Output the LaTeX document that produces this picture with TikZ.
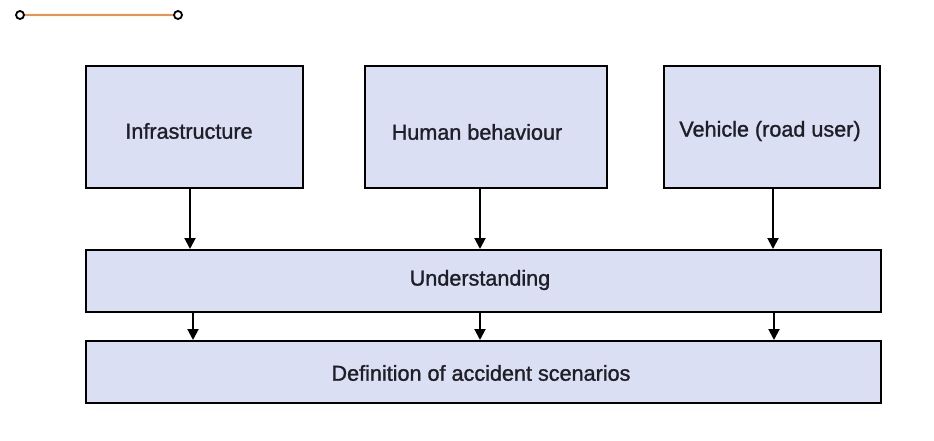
\documentclass[tikz,border=0pt]{standalone}
\usepackage{fontspec}
\setmainfont{Liberation Sans}
\newfontfamily\labelfont{Liberation Sans}[FakeBold=1.2]
\usetikzlibrary{arrows.meta}
\definecolor{boxfill}{RGB}{219,223,243}
\definecolor{textgrey}{RGB}{30,30,38}
\definecolor{legendline}{RGB}{240,145,70}
\begin{document}
\begin{tikzpicture}[x=1pt,y=-1pt,
  blockbox/.style={draw=black,line width=2pt,fill=boxfill,inner sep=0pt},
  blocklabel/.style={text=textgrey,font=\labelfont\fontsize{21.6}{25}\selectfont,inner sep=0pt,anchor=center},
  flow/.style={line width=2pt,-{Triangle[width=11pt,length=11pt]}},
  endpoint/.style={circle,draw=black,line width=1.8pt,fill=white,minimum size=8pt,inner sep=0pt}]
\useasboundingbox (0,0) rectangle (934,441);

% short orange bar in the upper-left corner
\node[endpoint] (e1) at (20,15) {};
\node[endpoint] (e2) at (178,15) {};
\draw[legendline,line width=2.6pt] (e1) -- (e2);

% upper row of factors
\node[blockbox,minimum width=217pt,minimum height=122pt] (inf) at (194.5,127) {};
\node[blockbox,minimum width=242pt,minimum height=122pt] (hum) at (486,127) {};
\node[blockbox,minimum width=216pt,minimum height=122pt] (veh) at (772,127) {};
\node[blocklabel] (tinf) at (189,131) {Infrastructure};
\node[blocklabel] (thum) at (477,132) {Human behaviour};
\node[blocklabel] (tveh) at (770,131) {Vehicle (road user)};

% wide bars
\node[blockbox,minimum width=795pt,minimum height=62pt] (und) at (483.5,281) {};
\node[blockbox,minimum width=795pt,minimum height=62pt] (def) at (483.5,372) {};
\node[blocklabel] (tund) at (480,280) {Understanding};
\node[blocklabel] (tdef) at (481,373) {Definition of accident scenarios};

% arrow columns
\coordinate (a1) at (190,0);
\coordinate (a2) at (480,0);
\coordinate (a3) at (773,0);
\coordinate (b1) at (193,0);
\coordinate (b2) at (480,0);
\coordinate (b3) at (774,0);

\draw[flow] (inf.south -| a1) -- (und.north -| a1);
\draw[flow] (hum.south -| a2) -- (und.north -| a2);
\draw[flow] (veh.south -| a3) -- (und.north -| a3);
\draw[flow] (und.south -| b1) -- (def.north -| b1);
\draw[flow] (und.south -| b2) -- (def.north -| b2);
\draw[flow] (und.south -| b3) -- (def.north -| b3);
\end{tikzpicture}
\end{document}
